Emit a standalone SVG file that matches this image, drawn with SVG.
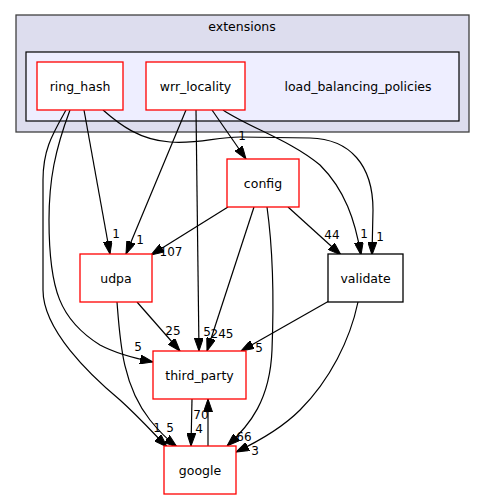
<svg xmlns="http://www.w3.org/2000/svg" width="485" height="500" viewBox="0 0 485 500">
<style>
text{font-family:"DejaVu Sans","Liberation Sans",sans-serif;fill:#000}
.nt{font-size:12.5px;text-anchor:middle}
.el{font-size:12px;text-anchor:middle}
.node rect{fill:#fff;stroke:#ff0000;stroke-width:1.3}
.edges path{fill:none;stroke:#000;stroke-width:1.2;marker-end:url(#arr)}
</style>
<defs>
<marker id="arr" markerUnits="userSpaceOnUse" viewBox="0 0 13 9" refX="13" refY="4.5" markerWidth="13" markerHeight="9" orient="auto">
<polygon points="0,0 13,4.5 0,9" fill="#000" stroke="#000" stroke-width="1"/>
</marker>
</defs>
<rect width="485" height="500" fill="#fff"/>
<g id="cluster-extensions">
<rect x="16" y="15" width="453" height="117" fill="#ddddee" stroke="#404040" stroke-width="1.3"/>
<text class="nt" x="242" y="31">extensions</text>
</g>
<g id="cluster-load_balancing_policies">
<rect x="26" y="52" width="433" height="69" fill="#eeeeff" stroke="#000" stroke-width="1.2"/>
<text class="nt" x="358" y="90.5">load_balancing_policies</text>
</g>
<g class="edges" id="edges">
<path d="M84,110 L110,254"/>
<path d="M186,110 L126,254"/>
<path d="M70,110 C55,150 49,180 49,220 C49,290 60,320 100,345 C115,353 133,358 153,362"/>
<path d="M66,110 C52,135 43,150 43,180 L43,290 C43,330 90,375 120,400 C140,418 155,435 167,447"/>
<path d="M117,302 C120,340 122,385 150,420 C158,430 168,440 177,447"/>
<path d="M137,302 L180,351"/>
<path d="M228,207 L151,255"/>
<path d="M254,207 L207,351"/>
<path d="M196,110 L199,351"/>
<path d="M267,207 C273,250 274,300 272,350 C270,400 250,425 227,446"/>
<path d="M288,207 L341,255"/>
<path d="M212,110 L246,159"/>
<path d="M223,110 C250,128 290,140 320,165 C345,190 355,220 361,255"/>
<path d="M103,110 C120,125 140,140 170,142 C200,144 215,137 240,137 L310,138 C350,139 373,165 373,210 L372,255"/>
<path d="M329,301 L241,351"/>
<path d="M358,302 C350,340 330,380 300,410 C280,430 255,443 236,452"/>
<path d="M192,399 L191,446"/>
<path d="M208,446 L208,399"/>
<text class="el" x="116" y="238">1</text>
<text class="el" x="140" y="244">1</text>
<text class="el" x="242" y="140">1</text>
<text class="el" x="364" y="238">1</text>
<text class="el" x="380" y="241">1</text>
<text class="el" x="332" y="239">44</text>
<text class="el" x="171" y="256">107</text>
<text class="el" x="173" y="335">25</text>
<text class="el" x="207" y="336">5</text>
<text class="el" x="222" y="338">245</text>
<text class="el" x="138" y="351">5</text>
<text class="el" x="259" y="352">5</text>
<text class="el" x="201" y="419">70</text>
<text class="el" x="199" y="433">4</text>
<text class="el" x="157" y="432">1</text>
<text class="el" x="170" y="432">5</text>
<text class="el" x="244" y="441">66</text>
<text class="el" x="255" y="455">3</text>
</g>
<g class="node" id="node-ring_hash"><rect x="37" y="62" width="86" height="48"/><text class="nt" x="80" y="90.5">ring_hash</text></g>
<g class="node" id="node-wrr_locality"><rect x="146" y="62" width="99" height="48"/><text class="nt" x="195.5" y="90.5">wrr_locality</text></g>
<g class="node" id="node-config"><rect x="227" y="159" width="72" height="48"/><text class="nt" x="263" y="187.5">config</text></g>
<g class="node" id="node-udpa"><rect x="80" y="254" width="72" height="48"/><text class="nt" x="116" y="282.5">udpa</text></g>
<g class="node" id="node-validate"><rect x="328" y="254" width="75" height="48" style="stroke:#000"/><text class="nt" x="365.5" y="282.5">validate</text></g>
<g class="node" id="node-third_party"><rect x="153" y="351" width="93" height="48"/><text class="nt" x="199.5" y="379.5">third_party</text></g>
<g class="node" id="node-google"><rect x="164" y="446" width="72" height="48"/><text class="nt" x="200" y="474.5">google</text></g>
</svg>
